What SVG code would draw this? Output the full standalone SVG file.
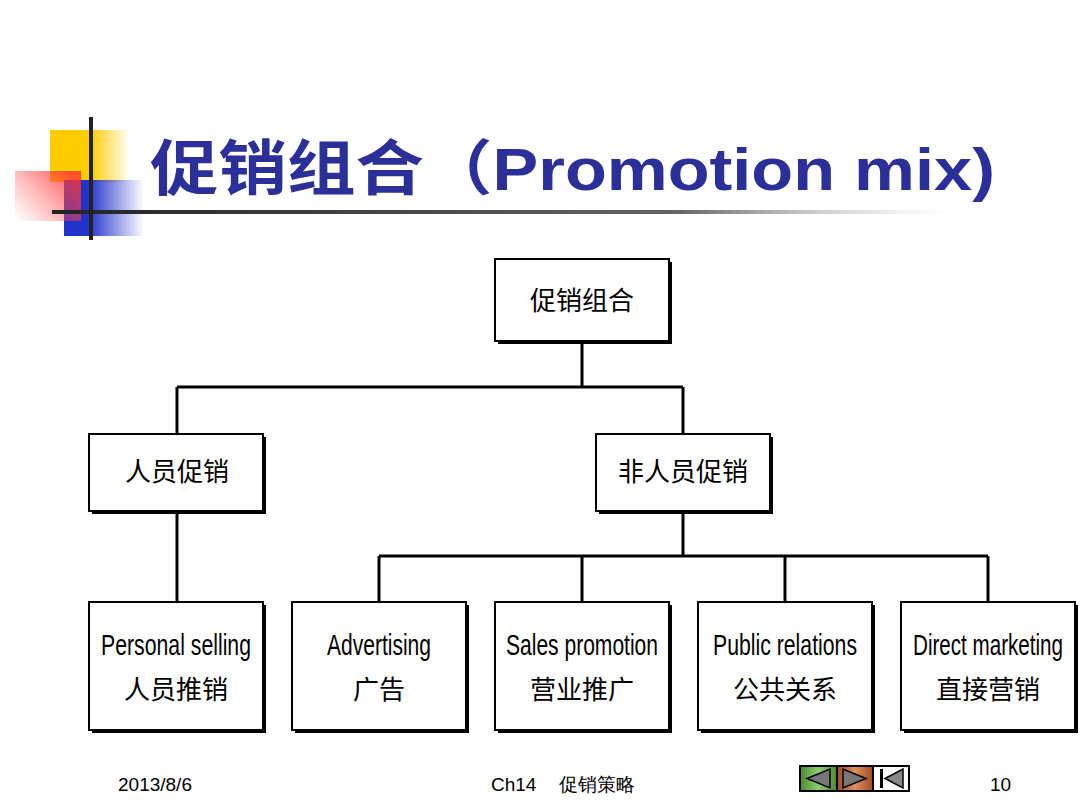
<svg xmlns="http://www.w3.org/2000/svg" width="1080" height="810" viewBox="0 0 1080 810">
<defs>
<linearGradient id="gy" x1="0" x2="1"><stop offset="0.5" stop-color="#ffcc00"/><stop offset="1" stop-color="#ffcc00" stop-opacity="0"/></linearGradient>
<linearGradient id="gb" x1="0" x2="1"><stop offset="0.3" stop-color="#2233cc"/><stop offset="1" stop-color="#2233cc" stop-opacity="0"/></linearGradient>
<linearGradient id="gr" x1="1" x2="0" y1="0.3" y2="1"><stop offset="0" stop-color="#ff3333"/><stop offset="1" stop-color="#ff6666" stop-opacity="0"/></linearGradient>
<linearGradient id="gl" x1="0" x2="1"><stop offset="0" stop-color="#222"/><stop offset="0.7" stop-color="#666"/><stop offset="1" stop-color="#ccc" stop-opacity="0"/></linearGradient>
<linearGradient id="gg" x1="0" x2="1"><stop offset="0" stop-color="#4a8a30"/><stop offset="0.5" stop-color="#8fcc70"/><stop offset="1" stop-color="#4a8a30"/></linearGradient>
<linearGradient id="go" x1="0" x2="1"><stop offset="0" stop-color="#a04a20"/><stop offset="0.5" stop-color="#e09060"/><stop offset="1" stop-color="#a04a20"/></linearGradient>
</defs>
<style>
.box{fill:#fff;stroke:#000;stroke-width:2}
.sh{fill:#000}
.cn{font-family:"Noto Sans CJK SC",sans-serif;font-size:26px;text-anchor:middle;fill:#000}
.en{font-family:"Liberation Sans Narrow","Liberation Sans",sans-serif;font-size:29px;text-anchor:middle;fill:#000}
.con{stroke:#000;stroke-width:3;fill:none}
.ft{font-family:"Liberation Sans",sans-serif;font-size:19px;fill:#000}
</style>
<rect width="1080" height="810" fill="#fff"/>
<g id="logo">
<rect x="50" y="130" width="80" height="52" fill="url(#gy)"/>
<rect x="64" y="180" width="80" height="56" fill="url(#gb)"/>
<rect x="15" y="171" width="66" height="50" fill="url(#gr)" opacity="0.8"/>
<rect x="52" y="210" width="900" height="4" fill="url(#gl)"/>
<rect x="89" y="117" width="4" height="123" fill="#222"/>
</g>
<text x="150" y="190" font-family="Noto Sans CJK SC,sans-serif" font-weight="bold" font-size="60" fill="#2a2f9a" textLength="845" lengthAdjust="spacingAndGlyphs">促销组合（<tspan font-family="Liberation Sans,sans-serif">Promotion mix)</tspan></text>
<g id="connectors">
<path class="con" d="M582 341V387M177 387H683M177 387V434M683 387V434M177 511V602M683 511V556M379 556H988M379 556V602M582 556V602M785 556V602M988 556V602"/>
</g>
<g id="root"><rect class="sh" x="498" y="262" width="174" height="82"/><rect class="box" x="495" y="259" width="174" height="82"/><text class="cn" x="582" y="310">促销组合</text></g>
<g id="personal"><rect class="sh" x="92" y="437" width="174" height="77"/><rect class="box" x="89" y="434" width="174" height="77"/><text class="cn" x="177" y="481">人员促销</text></g>
<g id="nonpersonal"><rect class="sh" x="599" y="437" width="174" height="77"/><rect class="box" x="596" y="434" width="174" height="77"/><text class="cn" x="683" y="481">非人员促销</text></g>
<g id="n1"><rect class="sh" x="92" y="605" width="174" height="128"/><rect class="box" x="89" y="602" width="174" height="128"/><text class="en" x="176" y="655" textLength="150" lengthAdjust="spacingAndGlyphs">Personal selling</text><text class="cn" x="176" y="699">人员推销</text></g>
<g id="n2"><rect class="sh" x="295" y="605" width="174" height="128"/><rect class="box" x="292" y="602" width="174" height="128"/><text class="en" x="379" y="655" textLength="104" lengthAdjust="spacingAndGlyphs">Advertising</text><text class="cn" x="379" y="699">广告</text></g>
<g id="n3"><rect class="sh" x="498" y="605" width="174" height="128"/><rect class="box" x="495" y="602" width="174" height="128"/><text class="en" x="582" y="655" textLength="152" lengthAdjust="spacingAndGlyphs">Sales promotion</text><text class="cn" x="582" y="699">营业推广</text></g>
<g id="n4"><rect class="sh" x="701" y="605" width="174" height="128"/><rect class="box" x="698" y="602" width="174" height="128"/><text class="en" x="785" y="655" textLength="144" lengthAdjust="spacingAndGlyphs">Public relations</text><text class="cn" x="785" y="699">公共关系</text></g>
<g id="n5"><rect class="sh" x="904" y="605" width="174" height="128"/><rect class="box" x="901" y="602" width="174" height="128"/><text class="en" x="988" y="655" textLength="150" lengthAdjust="spacingAndGlyphs">Direct marketing</text><text class="cn" x="988" y="699">直接营销</text></g>
<g id="footer">
<text class="ft" x="118" y="791">2013/8/6</text>
<text class="ft" x="491" y="791">Ch14</text>
<text class="ft" x="559" y="791" font-family="Noto Sans CJK SC,sans-serif" font-size="18">促销策略</text>
<text class="ft" x="990" y="791">10</text>
<rect x="800" y="766" width="37" height="25" fill="url(#gg)" stroke="#000" stroke-width="2"/>
<polygon points="807,778.5 830,769 830,788" fill="#777" stroke="#000" stroke-width="1.5"/>
<rect x="837" y="766" width="36" height="25" fill="url(#go)" stroke="#000" stroke-width="2"/>
<polygon points="866,778.5 843,769 843,788" fill="#777" stroke="#000" stroke-width="1.5"/>
<rect x="873" y="766" width="36" height="25" fill="#fff" stroke="#000" stroke-width="2"/>
<rect x="880" y="769" width="3" height="19" fill="#000"/>
<polygon points="885,778.5 903,769 903,788" fill="#888" stroke="#000" stroke-width="1.5"/>
</g>
</svg>
